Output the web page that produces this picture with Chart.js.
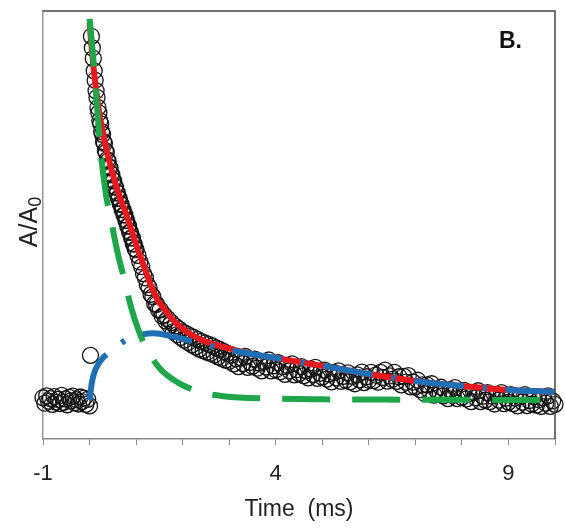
<!DOCTYPE html>
<html>
<head>
<meta charset="utf-8">
<script src="https://cdn.jsdelivr.net/npm/chart.js@4.4.1/dist/chart.umd.min.js"></script>
<style>
html,body{margin:0;padding:0;background:#fff;}
#wrap{width:565px;height:531px;}
</style>
</head>
<body>
<div id="wrap"><canvas id="c" width="565" height="531"></canvas></div>
<script>
// ---- data ----
const xTickLabels = [-1, 4, 9];
const xTitle = 'Time  (ms)';
const yTitleMain = 'A/A';
const yTitleSub = '0';
const panelLabel = 'B.';

// measured absorbance (open circles): baseline, flash, decay
const dataTime = [
  -1.00,-0.96,-0.92,-0.88,-0.84,-0.80,-0.76,-0.72,-0.68,-0.64,-0.60,-0.56,-0.52,-0.48,-0.44,-0.40,-0.36,-0.32,-0.28,-0.24,-0.20,-0.16,-0.12,-0.08,-0.04,0.00,
  0.02,
  0.04,0.06,0.08,0.10,0.12,0.14,0.16,0.18,0.20,0.22,0.24,0.26,0.28,0.30,0.32,0.34,0.36,0.38,0.40,0.42,0.44,0.46,0.48,0.50,
  0.52,0.54,0.56,0.58,0.60,0.62,0.64,0.66,0.68,0.70,0.72,0.74,0.76,0.78,0.80,0.82,0.84,0.86,0.88,0.90,0.92,0.94,0.96,0.98,1.00,
  1.04,1.08,1.12,1.16,1.20,1.24,1.28,1.32,1.36,1.40,1.44,1.48,1.52,1.56,1.60,1.64,1.68,1.72,1.76,1.80,1.84,1.88,1.92,1.96,2.00,
  2.04,2.08,2.12,2.16,2.20,2.24,2.28,2.32,2.36,2.40,2.44,2.48,2.52,2.56,2.60,2.64,2.68,2.72,2.76,2.80,2.84,2.88,2.92,2.96,3.00,
  3.05,3.10,3.15,3.20,3.25,3.30,3.35,3.40,3.45,3.50,3.55,3.60,3.65,3.70,3.75,3.80,3.85,3.90,3.95,4.00,
  4.05,4.10,4.15,4.20,4.25,4.30,4.35,4.40,4.45,4.50,4.55,4.60,4.65,4.70,4.75,4.80,4.85,4.90,4.95,5.00,
  5.05,5.10,5.15,5.20,5.25,5.30,5.35,5.40,5.45,5.50,5.55,5.60,5.65,5.70,5.75,5.80,5.85,5.90,5.95,6.00,
  6.05,6.10,6.15,6.20,6.25,6.30,6.35,6.40,6.45,6.50,6.55,6.60,6.65,6.70,6.75,6.80,6.85,6.90,6.95,7.00,
  7.05,7.10,7.15,7.20,7.25,7.30,7.35,7.40,7.45,7.50,7.55,7.60,7.65,7.70,7.75,7.80,7.85,7.90,7.95,8.00,
  8.05,8.10,8.15,8.20,8.25,8.30,8.35,8.40,8.45,8.50,8.55,8.60,8.65,8.70,8.75,8.80,8.85,8.90,8.95,9.00,
  9.05,9.10,9.15,9.20,9.25,9.30,9.35,9.40,9.45,9.50,9.55,9.60,9.65,9.70,9.75,9.80,9.85,9.90,9.95,10.00
];
const dataValue = [
  0.006,-0.008,0.011,-0.003,0.004,-0.011,0.009,-0.005,0.002,-0.009,0.012,-0.006,0.003,-0.012,0.007,-0.002,0.010,-0.007,0.001,-0.010,0.008,-0.004,0.005,-0.011,0.002,-0.015,
  0.115,
  0.935,0.905,0.878,0.846,0.822,0.795,0.778,0.752,0.738,0.718,0.710,0.690,0.683,0.664,0.660,0.641,0.637,0.618,0.614,0.600,0.597,0.582,0.579,0.566,
  0.563,0.549,0.547,0.534,0.532,0.519,0.518,0.504,0.503,0.490,0.489,0.476,0.476,0.462,0.461,0.447,0.447,0.432,0.431,0.417,0.417,0.402,0.401,0.388,0.387,
  0.372,0.355,0.343,0.325,0.314,0.297,0.289,0.272,0.266,0.248,0.246,0.232,0.232,0.216,0.219,0.203,0.209,0.192,0.199,0.176,0.190,0.168,0.183,0.161,0.175,
  0.154,0.171,0.148,0.165,0.142,0.161,0.137,0.156,0.131,0.151,0.127,0.147,0.123,0.143,0.120,0.139,0.116,0.134,0.111,0.130,0.107,0.125,0.103,0.120,0.100,
  0.116,0.093,0.106,0.086,0.109,0.094,0.112,0.084,0.097,0.087,0.105,0.082,0.095,0.075,0.099,0.085,0.103,0.075,0.088,0.078,
  0.096,0.073,0.086,0.066,0.089,0.075,0.093,0.065,0.078,0.068,0.086,0.063,0.076,0.057,0.080,0.066,0.084,0.056,0.069,0.059,
  0.077,0.054,0.067,0.047,0.071,0.057,0.075,0.048,0.061,0.051,0.070,0.047,0.061,0.042,0.065,0.052,0.072,0.045,0.060,0.051,
  0.071,0.050,0.064,0.046,0.071,0.058,0.077,0.049,0.062,0.053,0.071,0.048,0.060,0.039,0.061,0.046,0.063,0.034,0.046,0.034,
  0.051,0.027,0.039,0.017,0.039,0.025,0.042,0.013,0.026,0.015,0.033,0.011,0.024,0.004,0.027,0.013,0.032,0.004,0.017,0.007,
  0.025,0.003,0.016,-0.004,0.020,0.006,0.024,-0.004,0.010,0.000,0.019,-0.004,0.010,-0.010,0.014,0.000,0.019,-0.009,0.005,-0.005,
  0.014,-0.009,0.005,-0.015,0.009,-0.005,0.014,-0.014,-0.001,-0.010,0.009,-0.013,0.001,-0.016,0.006,-0.008,0.011,-0.016,-0.002,-0.011
];

// red fit
const redTime = [0.0,0.05,0.1,0.2,0.3,0.4,0.5,0.6,0.75,0.88,1.0,1.15,1.3,1.46,1.6,1.8,2.0,2.23,2.5,3.0,3.5,4.0,5.0,6.0,7.0,8.0,9.0,10.0];
const redValue = [0.970,0.900,0.840,0.745,0.680,0.625,0.580,0.540,0.490,0.445,0.400,0.350,0.300,0.258,0.235,0.205,0.183,0.165,0.150,0.133,0.118,0.108,0.088,0.067,0.049,0.036,0.026,0.021];

// blue fit (rise then decay)
const blueTime = [0.0,0.05,0.1,0.2,0.3,0.45,0.6,0.84,1.1,1.37,1.8,2.3,2.8,3.5,4.0,5.0,6.0,7.0,8.0,9.0,10.0];
const blueValue = [0.000,0.045,0.070,0.095,0.110,0.125,0.140,0.158,0.168,0.172,0.163,0.148,0.134,0.118,0.108,0.088,0.067,0.049,0.036,0.026,0.021];

// green fit (fast decay)
const greenTime = [0.0,0.05,0.1,0.23,0.35,0.45,0.6,0.77,0.88,1.05,1.24,1.52,1.9,2.39,2.88,3.9,5.0,7.0,10.0];
const greenValue = [0.980,0.920,0.850,0.650,0.530,0.470,0.380,0.300,0.244,0.180,0.129,0.080,0.045,0.020,0.010,0.004,0.002,0.001,0.000];

const pts = (t, v) => t.map((x, i) => ({x: x, y: v[i]}));
const FONT = '"Liberation Sans", Arial, sans-serif';

const decorPlugin = {
  id: 'decor',
  afterDatasetsDraw(chart) {
    const {ctx, chartArea: a} = chart;
    ctx.save();
    // top and right frame lines
    ctx.strokeStyle = '#444';
    ctx.lineWidth = 1.5;
    ctx.beginPath();
    ctx.moveTo(a.left, a.top);
    ctx.lineTo(a.right, a.top);
    ctx.lineTo(a.right, a.bottom);
    ctx.stroke();
    // panel label
    ctx.fillStyle = '#111';
    ctx.font = 'bold 23px ' + FONT;
    ctx.textAlign = 'left';
    ctx.textBaseline = 'alphabetic';
    ctx.fillText(panelLabel, a.right - 56, a.top + 37);
    // y axis title with subscript
    ctx.translate(28, (a.top + a.bottom) / 2 - 3);
    ctx.rotate(-Math.PI / 2);
    ctx.fillStyle = '#222';
    const f1 = '25px ' + FONT, f2 = '18px ' + FONT;
    ctx.font = f1; const w1 = ctx.measureText(yTitleMain).width;
    ctx.font = f2; const w2 = ctx.measureText(yTitleSub).width;
    const x0 = -(w1 + w2) / 2;
    ctx.textBaseline = 'alphabetic';
    ctx.font = f1; ctx.fillText(yTitleMain, x0, 9);
    ctx.font = f2; ctx.fillText(yTitleSub, x0 + w1, 13);
    ctx.restore();
  }
};

new Chart(document.getElementById('c'), {
  type: 'scatter',
  data: {
    datasets: [
      {
        label: 'data',
        data: pts(dataTime, dataValue),
        showLine: false,
        pointStyle: 'circle',
        pointRadius: 8,
        pointBorderWidth: 1.3,
        pointBorderColor: '#151515',
        pointBackgroundColor: 'rgba(0,0,0,0)',
        clip: false,
        order: 4
      },
      {
        label: 'red',
        data: pts(redTime, redValue),
        showLine: true,
        borderColor: '#e8191c',
        borderWidth: 6,
        pointRadius: 0,
        cubicInterpolationMode: 'monotone',
        order: 3
      },
      {
        label: 'green',
        data: pts(greenTime, greenValue),
        showLine: true,
        borderColor: '#1fa64a',
        borderWidth: 6,
        borderDash: [48, 22],
        pointRadius: 0,
        cubicInterpolationMode: 'monotone',
        order: 2
      },
      {
        label: 'blue',
        data: pts(blueTime, blueValue),
        showLine: true,
        borderColor: '#1f6fb4',
        borderWidth: 6,
        borderDash: [50, 19, 4, 19],
        pointRadius: 0,
        cubicInterpolationMode: 'monotone',
        order: 1
      }
    ]
  },
  options: {
    responsive: false,
    animation: false,
    devicePixelRatio: 1,
    layout: {padding: {top: 11, right: 10, left: 0, bottom: 0}},
    plugins: {legend: {display: false}, tooltip: {enabled: false}},
    scales: {
      x: {
        type: 'linear',
        min: -1, max: 10,
        afterFit: s => { s.height = 92; s.paddingLeft = 0; s.paddingRight = 0; },
        ticks: {
          stepSize: 1,
          autoSkip: false,
          maxRotation: 0,
          padding: 16,
          color: '#222',
          font: {family: FONT, size: 22},
          callback: v => xTickLabels.includes(v) ? String(v) : ''
        },
        grid: {display: true, drawOnChartArea: false, drawTicks: true, tickLength: 6, color: '#888', lineWidth: 1},
        border: {display: true, color: '#888', width: 1.5},
        title: {display: true, text: xTitle, color: '#222',
                font: {family: FONT, size: 23},
                padding: {top: 0, bottom: 8}}
      },
      y: {
        type: 'linear',
        min: -0.1, max: 1.0,
        afterFit: s => { s.width = 43; s.paddingTop = 0; s.paddingBottom = 0; },
        ticks: {display: false},
        grid: {display: false},
        border: {display: true, color: '#999', width: 1.5},
        title: {display: false}
      }
    }
  },
  plugins: [decorPlugin]
});
</script>
</body>
</html>
